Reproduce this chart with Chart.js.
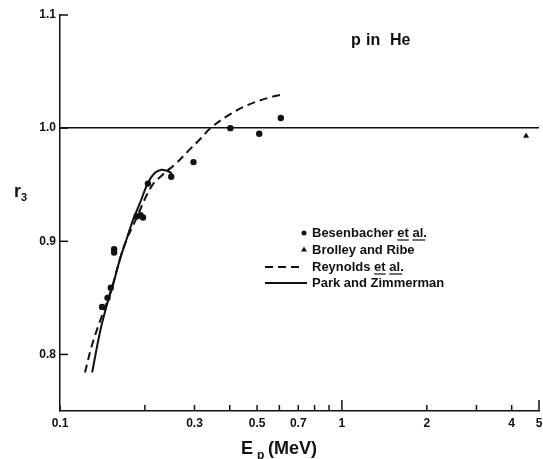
<!DOCTYPE html>
<html>
<head>
<meta charset="utf-8">
<script src="https://cdn.jsdelivr.net/npm/chart.js@4"></script>
<style>
  html, body { margin: 0; padding: 0; background: #fff; }
</style>
</head>
<body>
<canvas id="chart" width="543" height="459"></canvas>
<script>
// proton energy (MeV) and r3 values
const besenE = [0.141, 0.1474, 0.1514, 0.1556, 0.1556, 0.187, 0.193, 0.197, 0.205, 0.248, 0.2975, 0.402, 0.509, 0.607];
const besenR = [0.842, 0.850, 0.859, 0.893, 0.890, 0.922, 0.923, 0.921, 0.951, 0.957, 0.970, 1.000, 0.995, 1.009];

const brolleyE = [4.5];
const brolleyR = [0.993];

const reynoldsE = [0.1226, 0.1294, 0.1366, 0.1442, 0.154, 0.163, 0.172, 0.184, 0.211, 0.2317, 0.2585, 0.288, 0.3124, 0.342, 0.399, 0.469, 0.552, 0.624];
const reynoldsR = [0.784, 0.807, 0.825, 0.841, 0.862, 0.884, 0.901, 0.917, 0.9485, 0.959, 0.969, 0.981, 0.9897, 1.0, 1.012, 1.021, 1.027, 1.030];

const parkE = [0.130, 0.1384, 0.1462, 0.1543, 0.163, 0.172, 0.1816, 0.193, 0.205, 0.2167, 0.2287, 0.2375, 0.2478, 0.2497];
const parkR = [0.784, 0.819, 0.8425, 0.8617, 0.8838, 0.9014, 0.919, 0.935, 0.9515, 0.9603, 0.9632, 0.9626, 0.9603, 0.957];

const xTicks = [0.1, 0.2, 0.3, 0.4, 0.5, 0.6, 0.7, 0.8, 0.9, 1, 2, 3, 4, 5];
const xLabels = { 0.1: '0.1', 0.3: '0.3', 0.5: '0.5', 0.7: '0.7', 1: '1', 2: '2', 4: '4', 5: '5' };
const yTicks = [0.8, 0.9, 1.0, 1.1];

const ink = '#111';
const FONT = '"Liberation Sans", Arial, sans-serif';

function pts(xs, ys) {
  return xs.map((x, i) => ({ x: x, y: ys[i] }));
}

// inward tick marks, axis titles, the label and the legend
const decorations = {
  id: 'decorations',
  afterDraw(chart) {
    const ctx = chart.ctx;
    const xs = chart.scales.x;
    const ys = chart.scales.y;
    const area = chart.chartArea;
    ctx.save();
    ctx.strokeStyle = ink;
    ctx.fillStyle = ink;
    ctx.lineWidth = 1.5;

    xTicks.forEach(v => {
      const px = xs.getPixelForValue(v);
      const len = (v === 1 || v === 5) ? 11 : 6;
      ctx.beginPath();
      ctx.moveTo(px, area.bottom);
      ctx.lineTo(px, area.bottom - len);
      ctx.stroke();
    });
    yTicks.forEach(v => {
      const py = ys.getPixelForValue(v);
      ctx.beginPath();
      ctx.moveTo(area.left, py);
      ctx.lineTo(area.left + 8, py);
      ctx.stroke();
    });

    // y title r3
    ctx.textBaseline = 'alphabetic';
    ctx.textAlign = 'left';
    ctx.font = 'bold 18px ' + FONT;
    ctx.fillText('r', 14, 197);
    ctx.font = 'bold 11px ' + FONT;
    ctx.fillText('3', 21, 201);

    // x title Ep (MeV)
    ctx.font = 'bold 18px ' + FONT;
    ctx.fillText('E', 241, 454);
    ctx.fillText('(MeV)', 268, 454);
    ctx.font = 'bold 12px ' + FONT;
    ctx.fillText('p', 257, 459);

    // p in He
    ctx.font = 'bold 16px ' + FONT;
    ctx.fillText('p', 351, 45);
    ctx.fillText('in', 366, 45);
    ctx.fillText('He', 390, 45);

    // legend
    ctx.font = 'bold 13px ' + FONT;
    ctx.textBaseline = 'middle';
    const tx = 312;
    const rows = [
      { y: 233, text: 'Besenbacher ', ul: true },
      { y: 250, text: 'Brolley and Ribe', ul: false },
      { y: 267, text: 'Reynolds ', ul: true },
      { y: 283, text: 'Park and Zimmerman', ul: false }
    ];
    rows.forEach(r => {
      ctx.fillText(r.text, tx, r.y);
      if (r.ul) {
        let x0 = tx + ctx.measureText(r.text).width;
        ctx.fillText('et', x0, r.y);
        const wEt = ctx.measureText('et').width;
        ctx.lineWidth = 1.2;
        ctx.beginPath();
        ctx.moveTo(x0, r.y + 7);
        ctx.lineTo(x0 + wEt, r.y + 7);
        ctx.stroke();
        x0 += wEt + ctx.measureText(' ').width;
        ctx.fillText('al.', x0, r.y);
        const wAl = ctx.measureText('al').width;
        ctx.beginPath();
        ctx.moveTo(x0, r.y + 7);
        ctx.lineTo(x0 + wAl + 2, r.y + 7);
        ctx.stroke();
      }
    });
    // legend markers
    ctx.beginPath();
    ctx.arc(304, 233, 2.5, 0, Math.PI * 2);
    ctx.fill();
    ctx.beginPath();
    ctx.moveTo(304, 246.5);
    ctx.lineTo(307, 251.5);
    ctx.lineTo(301, 251.5);
    ctx.closePath();
    ctx.fill();
    ctx.lineWidth = 2;
    ctx.setLineDash([8, 5]);
    ctx.beginPath();
    ctx.moveTo(265, 267);
    ctx.lineTo(301, 267);
    ctx.stroke();
    ctx.setLineDash([]);
    ctx.beginPath();
    ctx.moveTo(265, 283);
    ctx.lineTo(307, 283);
    ctx.stroke();
    ctx.restore();
  }
};

new Chart(document.getElementById('chart'), {
  type: 'scatter',
  data: {
    datasets: [
      {
        label: 'Besenbacher et al.',
        data: pts(besenE, besenR),
        pointStyle: 'circle',
        pointRadius: 3.2,
        backgroundColor: ink,
        borderColor: ink,
        borderWidth: 0
      },
      {
        label: 'Brolley and Ribe',
        data: pts(brolleyE, brolleyR),
        pointStyle: 'triangle',
        pointRadius: 3.5,
        backgroundColor: ink,
        borderColor: ink,
        borderWidth: 0
      },
      {
        label: 'Reynolds et al.',
        data: pts(reynoldsE, reynoldsR),
        showLine: true,
        borderDash: [8, 5],
        borderWidth: 2,
        borderColor: ink,
        pointRadius: 0,
        tension: 0.35
      },
      {
        label: 'Park and Zimmerman',
        data: pts(parkE, parkR),
        showLine: true,
        borderWidth: 2,
        borderColor: ink,
        pointRadius: 0,
        tension: 0.35
      }
    ]
  },
  options: {
    responsive: false,
    animation: false,
    layout: { padding: { top: 15, right: 2, left: 0, bottom: 0 } },
    plugins: {
      legend: { display: false },
      tooltip: { enabled: false }
    },
    scales: {
      x: {
        type: 'logarithmic',
        min: 0.1,
        max: 5,
        afterBuildTicks: scale => { scale.ticks = xTicks.map(v => ({ value: v })); },
        afterFit: scale => {
          scale.height = 48;
          scale.paddingLeft = 0;
          scale.paddingRight = 0;
        },
        grid: { display: false, drawTicks: false },
        border: { display: true, color: ink, width: 1.5 },
        ticks: {
          autoSkip: false,
          maxRotation: 0,
          padding: 5,
          color: ink,
          font: { family: FONT, size: 12, weight: 'bold' },
          callback: v => xLabels[v] || ''
        }
      },
      y: {
        min: 0.75,
        max: 1.1,
        afterBuildTicks: scale => { scale.ticks = yTicks.map(v => ({ value: v })); },
        afterFit: scale => { scale.width = 60; },
        grid: {
          drawTicks: false,
          lineWidth: 1.5,
          color: c => (c.tick && Math.abs(c.tick.value - 1) < 1e-9) ? ink : 'rgba(0,0,0,0)'
        },
        border: { display: true, color: ink, width: 1.5 },
        ticks: {
          padding: 4,
          color: ink,
          font: { family: FONT, size: 12, weight: 'bold' },
          callback: v => v.toFixed(1)
        }
      }
    }
  },
  plugins: [decorations]
});
</script>
</body>
</html>
